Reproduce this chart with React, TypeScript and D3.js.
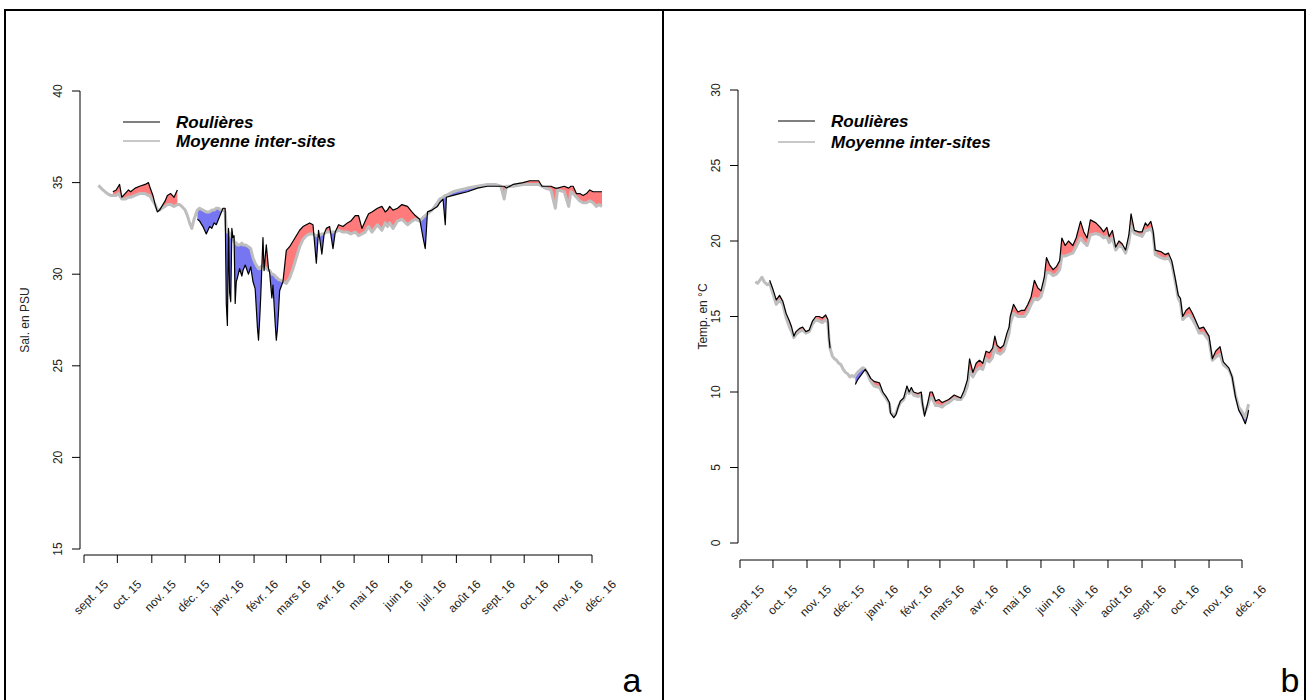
import React from 'react';
import * as d3 from 'd3';

// Day offsets from 1 Sept 2015, site (Roulières) and inter-site mean
const START = new Date(Date.UTC(2015, 8, 1));
const END = new Date(Date.UTC(2016, 11, 1));

const MONTH_LABELS = [
  'sept. 15', 'oct. 15', 'nov. 15', 'déc. 15', 'janv. 16', 'févr. 16', 'mars 16', 'avr. 16',
  'mai 16', 'juin 16', 'juil. 16', 'août 16', 'sept. 16', 'oct. 16', 'nov. 16', 'déc. 16',
];

const LEGEND_LABELS = ['Roulières', 'Moyenne inter-sites'];

// Salinity (panel a)
const SAL_TICKS = [15, 20, 25, 30, 35, 40];
const salDays = [
  13, 17, 21, 24, 26, 29, 31, 32, 34, 37, 40, 42, 46, 50, 55, 58, 59, 62, 64, 66, 68, 70, 73, 75, 78, 81, 84,
  86, 88, 91, 93, 95, 97, 99, 102, 104, 107, 110, 113, 115, 117, 119, 121, 123, 125, 127,
  128, 129, 130, 131, 132, 133, 134, 135, 136, 137, 138, 140, 142, 143, 145, 148, 150, 152, 154, 156, 157, 158,
  159, 161, 162, 164, 166, 167, 169, 170, 172, 173, 174, 175, 176, 179, 182, 185, 188, 191, 194,
  197, 200, 203, 206, 209, 211, 214, 216, 218, 221, 224, 226, 229, 233, 237, 240, 244, 247, 250, 253, 256, 259,
  264, 268, 271, 273, 275, 278, 282, 286, 291, 295, 298, 302, 305, 307, 309, 313, 318, 320, 323, 325, 326, 332,
  338, 345, 354, 363, 370, 375, 378, 380, 386, 395, 401, 409, 412, 415, 420, 424, 426, 432, 436, 438, 440, 443,
  446, 449, 452, 455, 458, 461, 463, 466,
];
const salSite = [
  null, null, null, null, 34.5, 34.6, 34.8, 34.9, 34.2, 34.4, 34.6, 34.5, 34.7, 34.8, 34.9, 35.0, 34.8, 34.3, 33.8,
  33.4, 33.5, 33.7, 34.0, 34.3, 34.4, 34.2, 34.6,
  null, null, null, null, null, null, null, 33.0, 32.9, 32.6, 32.2, 32.6, 32.5, 32.8, 32.7, 33.0, 33.3, 33.6, 33.6,
  28.4, 27.2, 32.5, 29.0, 28.5, 32.5, 32.0, 32.1, 28.4, 29.6, 29.8, 30.3, 29.9, 30.2, 30.5, 30.0, 30.4, 29.6, 29.2,
  27.1, 26.4, 27.5,
  28.8, 32.0, 30.2, 31.6, 30.3, 30.1, 28.7, 29.4, 27.3, 26.4, 27.0, 28.0, 29.1, 29.6, 31.3, 31.5, 31.8, 32.1, 32.4,
  32.6, 32.7, 32.8, 32.7, 30.6, 32.4, 31.1, 32.2, 32.5, 32.6, 31.4, 32.3, 32.7, 32.6, 32.8, 32.9, 33.2, 33.2, 32.5,
  32.9, 33.3, 33.4,
  33.6, 33.7, 33.4, 33.5, 33.7, 33.5, 33.6, 33.8, 33.7, 33.4, 33.2, 33.0, 32.0, 31.4, 33.4, 33.5, 33.7, 33.9, 34.1,
  32.7, 34.2, 34.3,
  34.4, 34.5, 34.7, 34.8, 34.8, 34.8, 34.8, 34.7, 34.9, 35.0, 35.1, 35.1, 34.8, 34.8, 34.8, 34.7, 34.7, 34.8, 34.7,
  34.8, 34.8, 34.4,
  34.4, 34.3, 34.4, 34.6, 34.5, 34.5, 34.5, 34.5,
];
const salMean = [
  34.85, 34.6, 34.4, 34.3, 34.3, 34.3, 34.4, 34.3, 34.1, 34.1, 34.2, 34.2, 34.3, 34.4, 34.4, 34.3, 34.3, 34.0, 33.8,
  33.5, 33.5, 33.6, 33.7, 33.8, 33.8, 33.7, 33.8,
  33.8, 33.7, 33.5, 33.2, 32.8, 32.5, 33.0, 33.5, 33.6, 33.5, 33.4, 33.4, 33.5, 33.5, 33.6, 33.6, 33.5, 33.5, 33.4,
  32.4, 32.3, 32.3, 32.2, 32.1, 32.0, 31.9, 31.8, 31.7, 31.7, 31.6, 31.6, 31.7, 31.6, 31.6, 31.5, 31.4, 30.9, 30.6,
  30.4, 30.3, 30.3,
  30.4, 30.5, 30.4, 30.3, 30.2, 30.2, 30.0, 30.0, 29.9, 29.8, 29.8, 29.7, 29.7, 29.6, 29.5, 29.8, 30.3, 30.9, 31.5,
  31.9, 32.1, 32.2, 32.2, 32.1, 32.1, 32.2, 32.2, 32.3, 32.3, 32.3, 32.3, 32.4, 32.3, 32.3, 32.2, 32.3, 32.1, 32.2,
  32.3, 32.6, 32.3,
  32.7, 32.4, 32.8, 32.6, 32.8, 32.5, 32.9, 33.0, 32.7, 32.9, 33.0, 32.9, 33.1, 33.2, 33.3, 33.5, 33.9, 34.1, 34.2,
  34.3, 34.3, 34.5,
  34.6, 34.7, 34.8, 34.9, 34.9, 34.8, 34.1, 34.8, 34.8, 34.9, 34.9, 34.9, 34.8, 34.7, 34.6, 33.6, 34.6, 34.5, 33.7,
  34.5, 34.4, 34.2,
  34.0, 33.9, 33.9, 34.0, 33.9, 33.7, 33.8, 33.7,
];

// Temperature (panel b)
const TEMP_TICKS = [0, 5, 10, 15, 20, 25, 30];
const tempDays = [
  14, 16, 18, 20, 22, 25, 27, 30, 33, 36, 39, 42, 45, 47, 49, 51, 54, 57, 60, 63, 66, 69, 72, 75, 78, 80, 81, 82,
  84, 86, 88, 90, 92, 94, 96, 98, 100, 102, 104, 105, 107, 110, 112, 114, 116, 119, 122, 127, 130, 133, 136, 137,
  140, 142, 144, 146, 149, 152, 154, 156, 158, 162, 165, 166, 168, 171, 173, 175, 178, 181, 184, 187, 190, 195,
  198, 201, 204, 207, 209, 212, 215, 218, 221, 224, 227, 230, 232, 234, 237, 240, 243, 245, 246, 249, 253, 256,
  259, 262, 265, 268, 271, 274, 277, 279, 282, 285, 288, 291, 293, 296, 299, 303, 306, 310, 313, 316, 319, 324,
  328, 331, 334, 336, 339, 342, 345, 348, 351, 354, 356, 359, 363, 366, 369, 371, 374, 376, 378, 383, 387, 390,
  393, 396, 399, 401, 403, 406, 409, 412, 415, 418, 422, 427, 430, 433, 437, 440, 445, 448, 451, 454, 457, 460,
  462, 463,
];
const tempSite = [
  null, null, null, null, null, null, 17.4, 16.8, 16.1, 16.4, 16.0, 15.2, 14.7, 14.3, 13.7, 14.0, 14.2, 14.3, 14.0,
  14.1, 14.7, 15.0, 15.0, 14.9, 15.1, 14.8, 13.6, 12.9,
  null, null, null, null, null, null, null, null, null, null, null, 10.5, 10.8, 11.1, 11.3, 11.5, 11.3, 10.9, 10.7,
  10.6, 10.0, 9.7, 9.3, 8.6,
  8.3, 8.5, 9.0, 9.4, 9.6, 10.4, 10.0, 10.3, 10.0, 9.9, 10.0, 9.3, 8.4, 9.3, 10.0, 10.0, 9.4, 9.5, 9.3, 9.4, 9.5,
  9.8,
  9.7, 9.6, 10.1, 10.8, 12.2, 11.3, 11.9, 12.1, 11.9, 12.7, 12.6, 12.9, 13.7, 13.1, 12.9, 13.1, 13.9, 14.3, 15.0,
  15.8, 15.3, 15.4,
  15.4, 15.8, 16.3, 17.4, 16.9, 16.7, 17.6, 18.9, 18.4, 18.1, 18.3, 18.7, 20.2, 19.7, 20.0, 19.7, 20.2, 21.3, 20.6,
  20.2, 21.4, 21.2,
  20.9, 20.6, 20.9, 20.3, 20.7, 19.6, 20.0, 19.8, 19.4, 20.4, 21.8, 20.7, 20.6, 20.6, 21.2, 21.0, 21.3, 20.7, 19.4,
  19.3, 19.1, 19.2,
  18.7, 17.6, 16.4, 16.2, 15.0, 15.4, 15.6, 15.2, 14.7, 14.2, 14.3, 13.7, 12.2, 12.7, 13.0, 12.0, 11.6, 11.0, 9.7,
  8.8, 8.4, 7.9,
  8.4, 8.8,
];
const tempMean = [
  17.3, 17.2, 17.4, 17.6, 17.3, 17.1, 17.2, 16.5, 15.8, 16.1, 15.8, 14.9, 14.3, 14.0, 13.6, 13.8, 14.0, 14.1, 13.9,
  14.0, 14.5, 14.8, 14.7, 14.6, 14.8, 14.6, 13.5, 12.9,
  12.4, 12.2, 12.1, 11.9, 11.8, 11.5, 11.3, 11.2, 11.0, 11.1, 11.0, 11.1, 11.3, 11.5, 11.6, 11.5, 11.2, 10.7, 10.4,
  10.3, 9.9, 9.6, 9.2, 8.7,
  8.4, 8.6, 9.0, 9.3, 9.5, 10.1, 9.9, 10.1, 9.8, 9.7, 9.8, 9.2, 8.6, 9.1, 9.6, 9.6, 9.1, 9.1, 9.0, 9.2, 9.3, 9.6,
  9.5, 9.5, 9.8, 10.4, 11.4, 11.0, 11.4, 11.6, 11.5, 12.2, 12.0, 12.3, 13.0, 12.6, 12.5, 12.7, 13.4, 13.9, 14.5,
  15.2, 15.0, 15.0,
  15.0, 15.3, 15.8, 16.2, 16.1, 16.3, 17.1, 17.9, 17.9, 17.7, 17.8, 18.1, 19.0, 19.0, 19.1, 19.2, 19.6, 20.2, 19.9,
  19.7, 20.4, 20.5,
  20.4, 20.2, 20.3, 19.9, 20.2, 19.4, 19.7, 19.6, 19.2, 19.9, 21.0, 20.5, 20.4, 20.3, 20.7, 20.7, 20.8, 20.5, 19.1,
  18.9, 18.8, 18.9,
  18.5, 17.4, 16.2, 15.9, 14.8, 15.0, 15.1, 14.8, 14.4, 13.9, 13.9, 13.4, 12.1, 12.3, 12.5, 11.8, 11.5, 11.0, 9.8,
  9.0, 8.7, 8.3,
  8.9, 9.2,
];

const FONT = '"Liberation Sans", Arial, sans-serif';

type Pt = { t: Date; s: number | null; m: number | null };

type PanelProps = {
  id: string;
  days: number[];
  site: (number | null)[];
  mean: (number | null)[];
  yTicks: number[];
  yLabel: string;
  xRange: [number, number];
  yRange: [number, number];
  axisX: number;
  axisY: number;
  yLabelX: number;
  legendX: number;
  legendY: [number, number];
  letter: string;
  letterX: number;
};

function Panel(p: PanelProps) {
  const x = d3.scaleUtc().domain([START, END]).range(p.xRange);
  const yMin = d3.min(p.yTicks)!;
  const yMax = d3.max(p.yTicks)!;
  const y = d3.scaleLinear().domain([yMin, yMax]).range(p.yRange);

  const pts: Pt[] = p.days.map((d, i) => ({ t: d3.utcDay.offset(START, d), s: p.site[i], m: p.mean[i] }));

  const lineSite = d3.line<Pt>().defined((d) => d.s != null).x((d) => x(d.t)).y((d) => y(d.s!));
  const lineMean = d3.line<Pt>().defined((d) => d.m != null).x((d) => x(d.t)).y((d) => y(d.m!));
  // area between the two series, split into above / below with clip paths
  const diff = d3
    .area<Pt>()
    .defined((d) => d.s != null && d.m != null)
    .x((d) => x(d.t))
    .y0((d) => y(d.m!))
    .y1((d) => y(d.s!));
  const clipAbove = d3.area<Pt>().defined((d) => d.m != null).x((d) => x(d.t)).y0((d) => y(d.m!)).y1(0);
  const clipBelow = d3.area<Pt>().defined((d) => d.m != null).x((d) => x(d.t)).y0((d) => y(d.m!)).y1(700);

  const months = d3.utcMonth.range(START, d3.utcDay.offset(END, 1));

  return (
    <g fontFamily={FONT}>
      <defs>
        <clipPath id={`${p.id}-above`}>
          <path d={clipAbove(pts) ?? ''} />
        </clipPath>
        <clipPath id={`${p.id}-below`}>
          <path d={clipBelow(pts) ?? ''} />
        </clipPath>
      </defs>

      <path d={diff(pts) ?? ''} fill="#FF7B7B" clipPath={`url(#${p.id}-above)`} />
      <path d={diff(pts) ?? ''} fill="#7676F2" clipPath={`url(#${p.id}-below)`} />

      <path d={lineMean(pts) ?? ''} fill="none" stroke="#BEBEBE" strokeWidth={3} strokeLinejoin="round" />
      <path d={lineSite(pts) ?? ''} fill="none" stroke="#000" strokeWidth={1.2} strokeLinejoin="round" />

      {/* y axis */}
      <line x1={p.axisX} x2={p.axisX} y1={y(yMin)} y2={y(yMax)} stroke="#000" />
      {p.yTicks.map((t) => (
        <g key={t}>
          <line x1={p.axisX - 8} x2={p.axisX} y1={y(t)} y2={y(t)} stroke="#000" />
          <text
            transform={`translate(${p.axisX - 22},${y(t)}) rotate(-90)`}
            textAnchor="middle"
            dy="0.35em"
            fontSize={12}
            fill="#222"
          >
            {t}
          </text>
        </g>
      ))}
      <text
        transform={`translate(${p.yLabelX},${(y(yMin) + y(yMax)) / 2}) rotate(-90)`}
        textAnchor="middle"
        dy="0.35em"
        fontSize={12}
        fill="#222"
      >
        {p.yLabel}
      </text>

      {/* x axis */}
      <line x1={x(START)} x2={x(END)} y1={p.axisY} y2={p.axisY} stroke="#000" />
      {months.map((m, i) => (
        <g key={i}>
          <line x1={x(m)} x2={x(m)} y1={p.axisY} y2={p.axisY + 8} stroke="#000" />
          <text
            transform={`translate(${x(m) + 22},${p.axisY + 27}) rotate(-45)`}
            textAnchor="end"
            dy="0.35em"
            fontSize={12}
            fill="#222"
          >
            {MONTH_LABELS[i]}
          </text>
        </g>
      ))}

      {/* legend */}
      <line x1={p.legendX} x2={p.legendX + 37} y1={p.legendY[0]} y2={p.legendY[0]} stroke="#000" strokeWidth={1} />
      <line x1={p.legendX} x2={p.legendX + 37} y1={p.legendY[1]} y2={p.legendY[1]} stroke="#C8C8C8" strokeWidth={2} />
      {LEGEND_LABELS.map((l, i) => (
        <text
          key={l}
          x={p.legendX + 53}
          y={p.legendY[i]}
          dy="0.35em"
          fontSize={17}
          fontWeight="bold"
          fontStyle="italic"
          fill="#000"
        >
          {l}
        </text>
      ))}

      <text x={p.letterX} y={692} textAnchor="middle" fontSize={34} fill="#000">
        {p.letter}
      </text>
    </g>
  );
}

export default function App() {
  return (
    <svg width={1310} height={700} style={{ position: 'absolute', left: 0, top: 0, background: '#fff' }}>
      <rect x={0} y={0} width={1310} height={700} fill="#fff" />
      <Panel
        id="sal"
        days={salDays}
        site={salSite}
        mean={salMean}
        yTicks={SAL_TICKS}
        yLabel="Sal. en PSU"
        xRange={[84, 592]}
        yRange={[549, 91]}
        axisX={80}
        axisY={555}
        yLabelX={25}
        legendX={123}
        legendY={[122, 141]}
        letter="a"
        letterX={632}
      />
      <Panel
        id="temp"
        days={tempDays}
        site={tempSite}
        mean={tempMean}
        yTicks={TEMP_TICKS}
        yLabel="Temp. en °C"
        xRange={[740, 1242]}
        yRange={[543, 90]}
        axisX={738}
        axisY={560}
        yLabelX={703}
        legendX={778}
        legendY={[121, 142]}
        letter="b"
        letterX={1290}
      />
      <rect x={5} y={10} width={1300} height={700} fill="none" stroke="#000" strokeWidth={2} />
      <line x1={663} x2={663} y1={10} y2={700} stroke="#000" strokeWidth={2} />
    </svg>
  );
}
